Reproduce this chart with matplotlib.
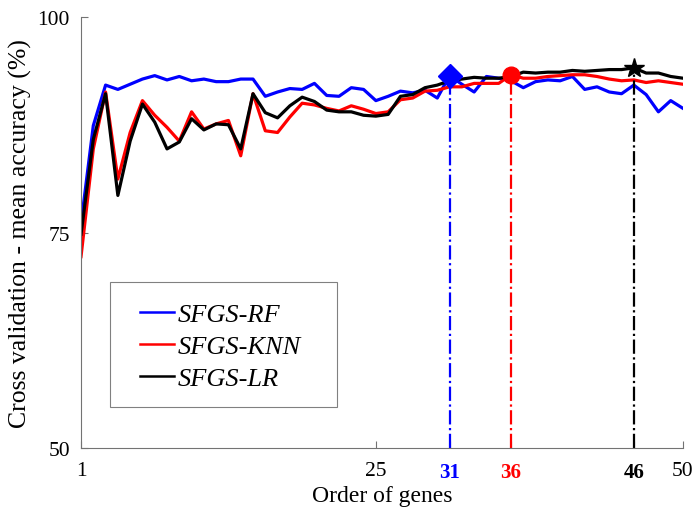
import numpy             as np
import matplotlib
matplotlib.use("Agg")
import matplotlib.pyplot as plt
from matplotlib.patches  import Rectangle

# 数据
n_genes = np.arange(1, 51)

acc_rf = [76.0, 87.4, 92.1, 91.6, 92.2, 92.8, 93.2, 92.7, 93.1, 92.6,
          92.8, 92.5, 92.5, 92.8, 92.8, 90.8, 91.3, 91.7, 91.6, 92.3,
          90.9, 90.8, 91.8, 91.6, 90.3, 90.8, 91.4, 91.2, 91.5, 90.6,
          93.2, 92.2, 91.3, 93.1, 92.9, 92.6, 91.8, 92.5, 92.7, 92.6,
          93.1, 91.6, 91.9, 91.3, 91.1, 92.1, 91.0, 89.0, 90.3, 89.4]

acc_knn = [72.2, 84.7, 91.3, 81.2, 86.6, 90.3, 88.6, 87.2, 85.6, 89.0,
           87.0, 87.6, 88.0, 83.9, 91.1, 86.8, 86.6, 88.4, 90.0, 89.8,
           89.4, 89.1, 89.7, 89.3, 88.8, 89.0, 90.4, 90.6, 91.4, 91.5,
           91.9, 91.9, 92.3, 92.3, 92.3, 93.3, 92.9, 92.9, 93.1, 93.2,
           93.3, 93.3, 93.1, 92.8, 92.6, 92.7, 92.4, 92.6, 92.4, 92.2]

acc_lr = [74.8, 85.8, 91.1, 79.3, 85.6, 89.9, 87.8, 84.7, 85.5, 88.2,
          86.9, 87.6, 87.5, 84.7, 91.1, 88.9, 88.3, 89.7, 90.7, 90.2,
          89.2, 89.0, 89.0, 88.6, 88.5, 88.7, 90.8, 91.0, 91.8, 92.1,
          92.6, 92.8, 93.0, 92.9, 92.9, 93.1, 93.6, 93.5, 93.6, 93.6,
          93.8, 93.7, 93.8, 93.9, 93.9, 94.1, 93.5, 93.5, 93.1, 92.9]

labels  = ['SFGS-RF', 'SFGS-KNN', 'SFGS-LR']
colors  = ['#0000ff', '#ff0000', '#000000']
markers = ['D', 'o', '*']
best_n  = [31, 36, 46]

# 字体
plt.rcParams['font.family'] = ['Liberation Serif', 'DejaVu Serif']

fig = plt.figure(figsize=(6.96, 5.10), dpi=100)
ax = fig.add_axes([0.1164, 0.1196, 0.8649, 0.8451])

series = [acc_rf, acc_knn, acc_lr]
for vals, lab, col in zip(series, labels, colors):
    ax.plot(n_genes, vals, color=col, lw=2.3, label=lab)

ax.set_xlim(1, 50)
ax.set_ylim(50, 100)

# 最优基因数标记
for vals, col, mk, n in zip(series, colors, markers, best_n):
    y_best = vals[n - 1]
    ax.plot([n, n], [50, y_best], color=col, lw=1.6, ls='-.')
    ms = {'D': 12, 'o': 12, '*': 15}[mk]
    ax.plot(n, y_best, marker=mk, color=col, ms=ms, ls='none')
    ax.text(n, -0.055, str(n), color=col, fontweight='bold', fontsize=15,
            ha='center', va='center', transform=ax.get_xaxis_transform())

ax.set_xticks([1, 25, 50] + best_n)
ax.set_xticklabels(['1', '25', '50', '', '', ''])
ax.set_yticks([50, 75, 100])
ax.tick_params(axis='both', direction='in', length=5, width=0.8,
               color='0.45', labelsize=15.5)
ax.tick_params(axis='x', pad=9)
ax.tick_params(axis='y', pad=8)

for side in ['top', 'right']:
    ax.spines[side].set_visible(False)
for side in ['left', 'bottom']:
    ax.spines[side].set_color('0.45')
    ax.spines[side].set_linewidth(0.8)

ax.set_xlabel('Order of genes', fontsize=17, labelpad=4)
ax.set_ylabel('Cross validation - mean accuracy (%)', fontsize=18.5, labelpad=4)

# 图例（MATLAB风格的宽边框）
leg = ax.legend(loc='upper left', bbox_to_anchor=(0.067, 0.381),
                borderaxespad=0, frameon=False,
                handlelength=1.3, handletextpad=0.15,
                labelspacing=0.33, borderpad=0.7,
                prop={'size': 19, 'style': 'italic'})
for line in leg.get_lines():
    line.set_linewidth(1.8)
ax.add_patch(Rectangle((0.048, 0.095), 0.377, 0.29, transform=ax.transAxes,
                       fill=False, edgecolor='0.5', lw=0.8, zorder=5))

fig.savefig('out.png', dpi=100)
